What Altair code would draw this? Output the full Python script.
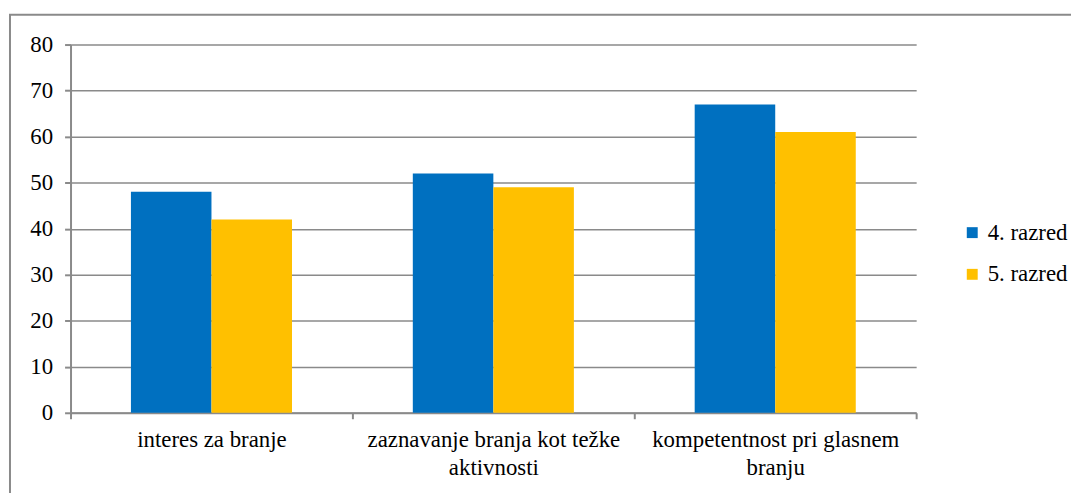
import json
import altair as alt
import pandas as pd

categories = ["interes za branje", "zaznavanje branja kot težke aktivnosti", "kompetentnost pri glasnem branju"]
label_lines = [["interes za branje"], ["zaznavanje branja kot težke", "aktivnosti"], ["kompetentnost pri glasnem", "branju"]]
series = ["4. razred", "5. razred"]
values_4 = [48, 52, 67]
values_5 = [42, 49, 61]
colors = ["#0070C0", "#FFC000"]

rows = []
for c, a, b in zip(categories, values_4, values_5):
    rows.append({"kategorija": c, "razred": series[0], "vrednost": a})
    rows.append({"kategorija": c, "razred": series[1], "vrednost": b})
df = pd.DataFrame(rows)

expr = ""
for c, lines in zip(categories, label_lines):
    expr += f"datum.label == {json.dumps(c)} ? {json.dumps(lines)} : "
expr += "datum.label"

FONT = "Liberation Serif"
GRAY = "#8a8a8a"
FS = 23

bars = alt.Chart(df).mark_bar().encode(
    x=alt.X("kategorija:N", sort=categories, title=None,
            scale=alt.Scale(paddingInner=0, paddingOuter=0),
            axis=alt.Axis(labelAngle=0, labelExpr=expr, tickBand="extent",
                          labelPadding=10, labelLineHeight=28, labelLimit=500, grid=False)),
    xOffset=alt.XOffset("razred:N", sort=series, scale=alt.Scale(paddingOuter=0.75, paddingInner=0)),
    y=alt.Y("vrednost:Q", title=None,
            scale=alt.Scale(domain=[0, 80], nice=False),
            axis=alt.Axis(values=list(range(0, 81, 10)), labelPadding=12,
                          gridColor=GRAY, gridWidth=1.5, gridOpacity=1)),
    color=alt.Color("razred:N", sort=series, scale=alt.Scale(domain=series, range=colors),
                    legend=alt.Legend(title=None, orient="none", legendX=897, legendY=178,
                                      symbolType="square", symbolSize=121, symbolStrokeWidth=0,
                                      labelLimit=300, rowPadding=18, labelOffset=4)),
)

border = alt.Chart(pd.DataFrame({"a": [0]})).mark_rect(
    fill=None, stroke=GRAY, strokeWidth=2
).encode(x=alt.value(-61), x2=alt.value(1100), y=alt.value(-30), y2=alt.value(600))

chart = alt.layer(bars, border).properties(
    width=852, height=371,
    autosize=alt.AutoSizeParams(type="none"),
    padding={"left": 63, "top": 35, "right": 156, "bottom": 79},
).configure(
    background="white", font=FONT,
).configure_view(
    stroke=None
).configure_axis(
    labelFont=FONT, labelFontSize=FS, labelColor="black",
    domainColor=GRAY, domainWidth=2, tickColor=GRAY, tickWidth=2, tickSize=6,
).configure_legend(
    labelFont=FONT, labelFontSize=FS, labelColor="black",
)

chart.save("out.html", embed_options={"renderer": "svg", "actions": False})
